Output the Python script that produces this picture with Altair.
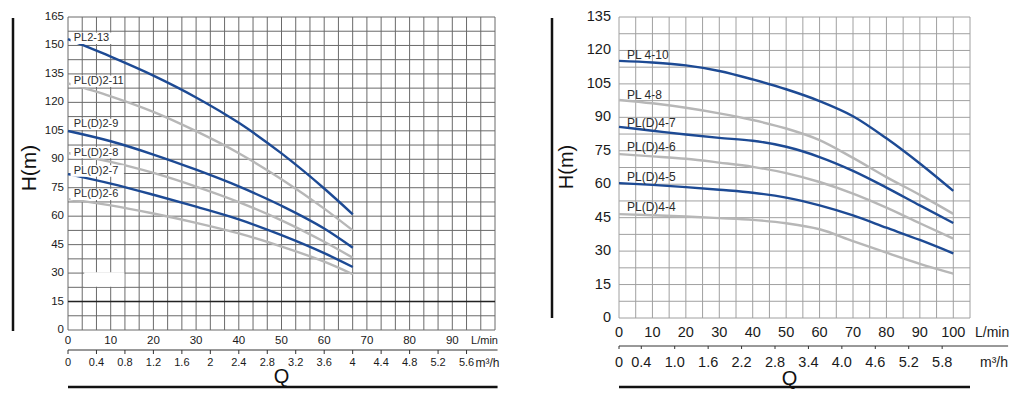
import altair as alt
import numpy as np
import pandas as pd

FONT = "Liberation Sans"
BLUE = "#1d4a94"
GRAY = "#b7b7b7"
INK = "#1a1a1a"

# ---------------- Left chart (PL2 / PL(D)2 series) ----------------
left_q = [0, 10, 20, 30, 40, 50, 60, 66.7]
left_names = ["PL2-13", "PL(D)2-11", "PL(D)2-9", "PL(D)2-8", "PL(D)2-7", "PL(D)2-6"]
left_tones = ["blue", "gray", "blue", "gray", "blue", "gray"]
left_pl2_13 = [153.3, 144.1, 134.1, 122.6, 109.2, 93.1, 74.6, 61.0]
left_pld2_11 = [130.0, 123.2, 115.0, 104.8, 93.2, 79.5, 64.0, 52.5]
left_pld2_9 = [104.9, 99.5, 92.5, 84.5, 75.7, 65.5, 53.5, 43.4]
left_pld2_8 = [93.3, 88.6, 82.8, 75.6, 67.4, 57.8, 46.5, 38.1]
left_pld2_7 = [82.2, 77.2, 71.3, 65.0, 58.3, 50.0, 40.5, 33.2]
left_pld2_6 = [69.0, 65.7, 61.4, 56.5, 50.9, 44.0, 36.0, 29.4]
left_label_h = [153.8, 131.1, 108.4, 93.5, 83.8, 71.5]
left_y_ticks = [0, 15, 30, 45, 60, 75, 90, 105, 120, 135, 150, 165]
left_lmin_ticks = [0, 10, 20, 30, 40, 50, 60, 70, 80, 90]
left_m3h_ticks = [0, 0.4, 0.8, 1.2, 1.6, 2.0, 2.4, 2.8, 3.2, 3.6, 4.0, 4.4, 4.8, 5.2, 5.6]
left_m3h_labels = ["0", "0.4", "0.8", "1.2", "1.6", "2", "2.4", "2.8", "3.2", "3.6",
                   "4", "4.4", "4.8", "5.2", "5.6"]
left_strong_h = [15]

# ---------------- Right chart (PL4 / PL(D)4 series) ----------------
right_q = [0, 10, 20, 30, 40, 50, 60, 70, 80, 90, 100]
right_names = ["PL 4-10", "PL 4-8", "PL(D)4-7", "PL(D)4-6", "PL(D)4-5", "PL(D)4-4"]
right_tones = ["blue", "gray", "blue", "gray", "blue", "gray"]
right_pl4_10 = [115.3, 114.6, 113.3, 110.8, 107.0, 102.6, 97.3, 90.5, 80.6, 69.3, 57.0]
right_pl4_8 = [97.8, 96.3, 94.3, 91.8, 88.8, 85.0, 79.8, 71.8, 63.2, 55.2, 46.7]
right_pld4_7 = [85.7, 84.0, 82.3, 80.8, 79.5, 76.8, 72.2, 66.0, 58.5, 50.5, 42.6]
right_pld4_6 = [73.5, 72.5, 71.4, 69.7, 67.8, 65.0, 61.0, 55.8, 49.5, 42.5, 35.6]
right_pld4_5 = [60.5, 59.7, 58.7, 57.5, 56.2, 54.0, 50.5, 46.0, 40.5, 35.0, 29.0]
right_pld4_4 = [46.6, 46.1, 45.5, 44.8, 44.0, 42.5, 39.8, 34.5, 29.3, 24.3, 19.9]
right_label_h = [118.0, 100.0, 87.5, 76.7, 63.2, 49.8]
right_y_ticks = [0, 15, 30, 45, 60, 75, 90, 105, 120, 135]
right_lmin_ticks = [0, 10, 20, 30, 40, 50, 60, 70, 80, 90, 100]
right_m3h_ticks = [0, 0.4, 1.0, 1.6, 2.2, 2.8, 3.4, 4.0, 4.6, 5.2, 5.8]
right_m3h_labels = ["0", "0.4", "1.0", "1.6", "2.2", "2.8", "3.4", "4.0", "4.6", "5.2", "5.8"]

M3H_TO_LMIN = 1000 / 60
one = pd.DataFrame({"k": [0]})


def pt(**cols):
    return pd.DataFrame({k: [v] for k, v in cols.items()})


def curves_df(q, names, tones, series):
    rows = []
    for n, t, s in zip(names, tones, series):
        for i, (qq, hh) in enumerate(zip(q, s)):
            rows.append({"name": n, "tone": t, "q": qq, "h": hh, "i": i})
    return pd.DataFrame(rows)


def X(field, xs):
    return alt.X(field, scale=xs, axis=None)


def Y(field, ys):
    return alt.Y(field, scale=ys, axis=None)


def grid_layers(xs, ys, xvals, yvals, color):
    v = alt.Chart(pd.DataFrame({"g": xvals})).mark_rule(color=color, strokeWidth=1).encode(
        x=X("g:Q", xs))
    h = alt.Chart(pd.DataFrame({"g": yvals})).mark_rule(color=color, strokeWidth=1).encode(
        y=Y("g:Q", ys))
    return [v, h]


def line_layer(df, xs, ys):
    return alt.Chart(df).mark_line(interpolate="monotone", strokeWidth=2.4).encode(
        x=X("q:Q", xs),
        y=Y("h:Q", ys),
        color=alt.Color("tone:N", scale=alt.Scale(domain=["blue", "gray"], range=[BLUE, GRAY]),
                        legend=None),
        detail="name:N",
        order="i:Q",
    )


def tick_label_layers(xs, ys, x_ticks, y_ticks, fsize, x_label_y, y_label_x,
                      title_x, title_y, title_size):
    xl = alt.Chart(pd.DataFrame({"v": x_ticks})).mark_text(
        fontSize=fsize, baseline="middle", color=INK, font=FONT).encode(
        x=X("v:Q", xs), y=alt.value(x_label_y), text="v:Q")
    yl = alt.Chart(pd.DataFrame({"v": y_ticks})).mark_text(
        fontSize=fsize, baseline="middle", align="right", color=INK, font=FONT).encode(
        y=Y("v:Q", ys), x=alt.value(y_label_x), text="v:Q")
    title = alt.Chart(one).mark_text(
        fontSize=title_size, baseline="middle", align="center", angle=270,
        color="#111111", font=FONT, text="H(m)").encode(
        x=alt.value(title_x), y=alt.value(title_y))
    return [xl, yl, title]


def m3h_layers(xs, ticks, labels, rule_end, rule_y, tick_len, label_y, fsize,
               unit_q, unit_dx, unit_size):
    mdf = pd.DataFrame({"q": [t * M3H_TO_LMIN for t in ticks], "label": labels})
    rule = alt.Chart(pt(a=0, b=rule_end)).mark_rule(color="#333333", strokeWidth=1).encode(
        x=X("a:Q", xs), x2="b:Q", y=alt.value(rule_y))
    tk = alt.Chart(mdf).mark_rule(color="#333333", strokeWidth=1).encode(
        x=X("q:Q", xs), y=alt.value(rule_y), y2=alt.value(rule_y + tick_len))
    lab = alt.Chart(mdf).mark_text(fontSize=fsize, baseline="middle", color=INK, font=FONT).encode(
        x=X("q:Q", xs), y=alt.value(label_y), text="label:N")
    unit = alt.Chart(pt(a=unit_q)).mark_text(fontSize=unit_size, baseline="middle", align="left",
                                            dx=unit_dx, color=INK, font=FONT, text="m³/h").encode(
        x=X("a:Q", xs), y=alt.value(label_y))
    return [rule, tk, lab, unit]


# ================= LEFT PANEL =================
W1, H1 = 427, 313
x1 = alt.Scale(domain=[0, 100], nice=False)
y1 = alt.Scale(domain=[0, 165], nice=False)
GRID1 = "#6a6a6a"

df1 = curves_df(left_q, left_names, left_tones,
                [left_pl2_13, left_pld2_11, left_pld2_9, left_pld2_8, left_pld2_7, left_pld2_6])

layers1 = grid_layers(x1, y1, np.arange(31) * 10 / 3, np.arange(0, 165.1, 7.5), GRID1)
layers1.append(alt.Chart(pd.DataFrame({"h": left_strong_h})).mark_rule(color="#222222", strokeWidth=1.6).encode(
    y=Y("h:Q", y1)))
layers1.append(alt.Chart(pt(a=3.8, b=13.2, c=22.8, d=30.4)).mark_rect(color="white").encode(
    x=X("a:Q", x1), x2="b:Q", y=Y("c:Q", y1), y2="d:Q"))
layers1.append(line_layer(df1, x1, y1))

lab1 = pd.DataFrame({"name": left_names, "h": left_label_h})
lab1["lo"] = lab1["h"] - 3.0
lab1["hi"] = lab1["h"] + 3.0
lab1["x0"] = 0.6
lab1["x1"] = 13.1
lab1["lx"] = 1.33
layers1.append(alt.Chart(lab1).mark_rect(color="white").encode(
    x=X("x0:Q", x1), x2="x1:Q", y=Y("lo:Q", y1), y2="hi:Q"))
layers1.append(alt.Chart(lab1).mark_text(align="left", baseline="middle", fontSize=11,
                                         color="#2b2b2b", font=FONT).encode(
    x=X("lx:Q", x1), y=Y("h:Q", y1), text="name:N"))

layers1 += tick_label_layers(x1, y1, left_lmin_ticks, left_y_ticks, 11.5, H1 + 11, -4,
                             -38.5, 151, 21)
layers1 += m3h_layers(x1, left_m3h_ticks, left_m3h_labels, 100.6, 333, 4, 346, 11,
                      5.6 * M3H_TO_LMIN, 9, 12)
layers1.append(alt.Chart(pt(a=100)).mark_text(fontSize=11, baseline="middle", align="right", dx=3,
                                              color=INK, font=FONT, text="L/min").encode(
    x=X("a:Q", x1), y=alt.value(H1 + 11)))
layers1.append(alt.Chart(one).mark_rule(color="#111111", strokeWidth=2.5).encode(
    x=alt.value(-55), y=alt.value(1), y2=alt.value(314)))
layers1.append(alt.Chart(pt(a=0, b=100.6)).mark_rule(color="#111111", strokeWidth=2.5).encode(
    x=X("a:Q", x1), x2="b:Q", y=alt.value(370)))
layers1.append(alt.Chart(pt(a=50)).mark_text(fontSize=20, baseline="middle", color="#111111",
                                             font=FONT, text="Q").encode(
    x=X("a:Q", x1), y=alt.value(360)))

left = alt.layer(*layers1).properties(width=W1, height=H1)

# ================= RIGHT PANEL =================
W2, H2 = 351, 301
x2 = alt.Scale(domain=[0, 105], nice=False)
y2 = alt.Scale(domain=[0, 135], nice=False)
GRID2 = "#a0a0a0"

df2 = curves_df(right_q, right_names, right_tones,
                [right_pl4_10, right_pl4_8, right_pld4_7, right_pld4_6, right_pld4_5, right_pld4_4])

layers2 = grid_layers(x2, y2, np.arange(0, 105.1, 5), np.arange(0, 135.1, 7.5), GRID2)
layers2.append(line_layer(df2, x2, y2))
lab2 = pd.DataFrame({"name": right_names, "h": right_label_h})
lab2["lx"] = 2.4
layers2.append(alt.Chart(lab2).mark_text(align="left", baseline="middle", fontSize=12,
                                         color="#2b2b2b", font=FONT).encode(
    x=X("lx:Q", x2), y=Y("h:Q", y2), text="name:N"))

layers2 += tick_label_layers(x2, y2, right_lmin_ticks, right_y_ticks, 14.5, H2 + 15, -8,
                             -52, 150, 20)
layers2 += m3h_layers(x2, right_m3h_ticks, right_m3h_labels, 116.4, 329, 3, 346, 14.5,
                      108.0, 0, 14)
layers2.append(alt.Chart(pt(a=106.5)).mark_text(fontSize=14, baseline="middle", align="left",
                                               color=INK, font=FONT, text="L/min").encode(
    x=X("a:Q", x2), y=alt.value(H2 + 15)))
layers2.append(alt.Chart(one).mark_rule(color="#111111", strokeWidth=2.5).encode(
    x=alt.value(-67), y=alt.value(1), y2=alt.value(301)))
layers2.append(alt.Chart(pt(a=0, b=105)).mark_rule(color="#111111", strokeWidth=2.5).encode(
    x=X("a:Q", x2), x2="b:Q", y=alt.value(370)))
layers2.append(alt.Chart(pt(a=51)).mark_text(fontSize=20, baseline="middle", color="#111111",
                                             font=FONT, text="Q").encode(
    x=X("a:Q", x2), y=alt.value(362)))

right = alt.layer(*layers2).properties(width=W2, height=H2)

chart = (
    alt.hconcat(left, right, spacing=50)
    .properties(padding={"left": 3, "top": 1, "right": 0, "bottom": 0})
    .configure(font=FONT)
    .configure_view(stroke=None)
)

chart.save("out.html", embed_options={"renderer": "svg", "actions": False})
